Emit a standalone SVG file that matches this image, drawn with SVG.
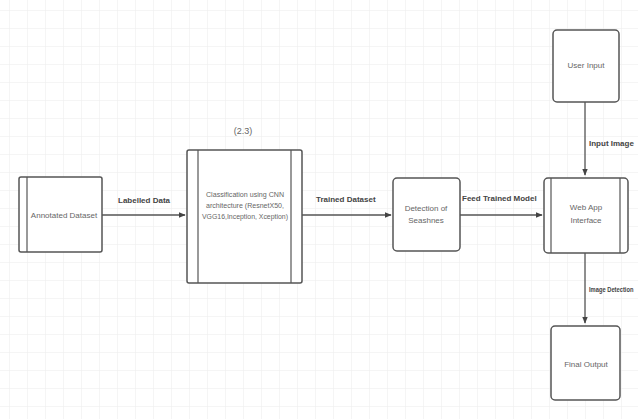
<svg xmlns="http://www.w3.org/2000/svg" width="638" height="419" viewBox="0 0 638 419">
<defs>
<pattern id="grid" width="18" height="18" patternUnits="userSpaceOnUse" x="9" y="10">
<path d="M0 0H18M0 0V18" fill="none" stroke="#ececec" stroke-width="1"/>
</pattern>
<marker id="arr" viewBox="0 0 10 10" refX="9" refY="5" markerWidth="7" markerHeight="7" orient="auto" markerUnits="userSpaceOnUse">
<path d="M0 1L10 5L0 9Z" fill="#444"/>
</marker>
<style>
.box{fill:#fff;stroke:#555;stroke-width:1.5}
.in{stroke:#555;stroke-width:1.2}
.t{font-family:"Liberation Sans",Arial,sans-serif;font-size:8px;fill:#666;text-anchor:middle}
.l{font-family:"Liberation Sans",Arial,sans-serif;font-size:8px;font-weight:bold;fill:#444}
.c{stroke:#555;stroke-width:1.3;fill:none}
</style>
</defs>
<rect width="638" height="419" fill="#fff"/>
<rect width="638" height="419" fill="url(#grid)"/>
<g id="connectors">
<line class="c" x1="102" y1="215" x2="185" y2="215" marker-end="url(#arr)"/>
<line class="c" x1="302" y1="215" x2="391" y2="215" marker-end="url(#arr)"/>
<line class="c" x1="460" y1="215" x2="542" y2="215" marker-end="url(#arr)"/>
<line class="c" x1="585" y1="102" x2="585" y2="175" marker-end="url(#arr)"/>
<line class="c" x1="585" y1="253" x2="585" y2="323" marker-end="url(#arr)"/>
<text class="l" x="118" y="203">Labelled Data</text>
<text class="l" x="316" y="202">Trained Dataset</text>
<text class="l" x="462" y="201">Feed Trained Model</text>
<text class="l" x="589" y="146">Input Image</text>
<text class="l" transform="translate(589,292) scale(0.72,1)" x="0" y="0">Image Detection</text>
</g>
<g id="annotated">
<rect class="box" x="19" y="177" width="83" height="75" rx="2"/>
<line class="in" x1="27" y1="177" x2="27" y2="252"/>
<text class="t" x="64" y="218">Annotated Dataset</text>
</g>
<g id="classification">
<text class="t" x="243" y="134" style="font-size:9px">(2.3)</text>
<rect class="box" x="187" y="150" width="115" height="133" rx="2"/>
<line class="in" x1="198" y1="150" x2="198" y2="283"/>
<line class="in" x1="291" y1="150" x2="291" y2="283"/>
<text class="t" x="245" y="197" textLength="78" lengthAdjust="spacingAndGlyphs">Classification using CNN</text>
<text class="t" x="245" y="208" textLength="78" lengthAdjust="spacingAndGlyphs">architecture (ResnetX50,</text>
<text class="t" x="245" y="219" textLength="86" lengthAdjust="spacingAndGlyphs">VGG16,Inception, Xception)</text>
</g>
<g id="detection">
<rect class="box" x="393" y="178" width="67" height="73" rx="4"/>
<text class="t" x="426" y="211">Detection of</text>
<text class="t" x="426" y="223">Seashnes</text>
</g>
<g id="webapp">
<rect class="box" x="544" y="178" width="84" height="75" rx="4"/>
<line class="in" x1="551" y1="178" x2="551" y2="253"/>
<line class="in" x1="620" y1="178" x2="620" y2="253"/>
<text class="t" x="586" y="210">Web App</text>
<text class="t" x="586" y="223">Interface</text>
</g>
<g id="userinput">
<rect class="box" x="553" y="30" width="66" height="72" rx="4"/>
<text class="t" x="586" y="68">User Input</text>
</g>
<g id="finaloutput">
<rect class="box" x="551" y="326" width="69" height="74" rx="4"/>
<text class="t" x="586" y="367">Final Output</text>
</g>
</svg>
